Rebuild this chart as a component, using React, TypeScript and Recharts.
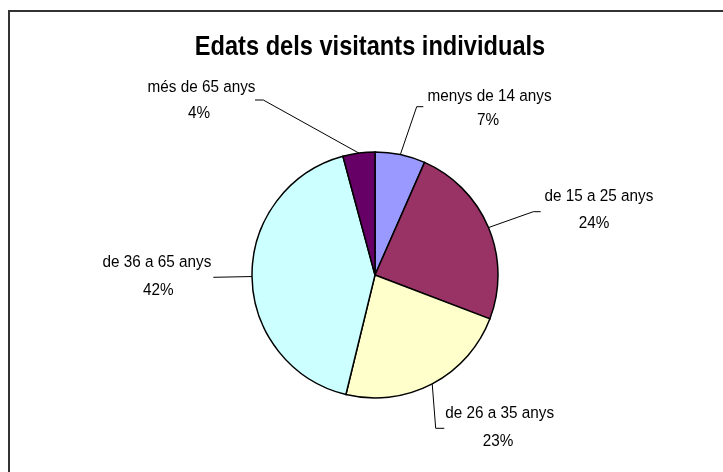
import React from "react";
import { PieChart, Pie, Cell } from "recharts";

const categories = [
  "menys de 14 anys",
  "de 15 a 25 anys",
  "de 26 a 35 anys",
  "de 36 a 65 anys",
  "més de 65 anys",
];
const values = [6.6, 24.2, 23.0, 42.0, 4.2];
const colors = ["#9999FF", "#993366", "#FFFFCC", "#CCFFFF", "#660066"];
const title = "Edats dels visitants individuals";

const data = categories.map((name, i) => ({ name, value: values[i] }));

// label layout (offsets relative to pie centre)
const LABEL_LAYOUT = [
  { pts: [[41.7, -168.3], [48.3, -168.3]], l1: [114.5, -174.3], l2: [113, -150] },
  { pts: [[158.3, -63.3], [165.7, -63.3]], l1: [224, -74.3], l2: [219, -47] },
  { pts: [[60.7, 153.3], [69.3, 153.3]], l1: [124.7, 143.3], l2: [123, 171] },
  { pts: [[-161.7, 2.3]], l1: [-218, -8.3], l2: [-216.7, 20] },
  { pts: [[-111.7, -175], [-120, -175]], l1: [-173.5, -183], l2: [-176, -157] },
];

const FONT = "'Liberation Sans', Arial, sans-serif";
const RAD = Math.PI / 180;
const LABEL_SX = 0.9;

const SText = ({ x, y, sx, children, ...rest }: any) => (
  <text
    transform={`translate(${x},${y}) scale(${sx},1)`}
    x={0}
    y={0}
    textAnchor="middle"
    fontFamily={FONT}
    fill="#000"
    {...rest}
  >
    {children}
  </text>
);

const renderLabel = (props: any) => {
  const { cx, cy, midAngle, outerRadius, index, percent, name } = props;
  const lay = LABEL_LAYOUT[index];
  const sx = cx + outerRadius * Math.cos(-midAngle * RAD);
  const sy = cy + outerRadius * Math.sin(-midAngle * RAD);
  const pts = [[sx, sy], ...lay.pts.map(([dx, dy]) => [cx + dx, cy + dy])];
  return (
    <g key={`lbl-${index}`}>
      <polyline
        points={pts.map((p) => p.join(",")).join(" ")}
        fill="none"
        stroke="#000"
        strokeWidth={1}
      />
      <SText x={cx + lay.l1[0]} y={cy + lay.l1[1]} sx={LABEL_SX} fontSize={17}>
        {name}
      </SText>
      <SText x={cx + lay.l2[0]} y={cy + lay.l2[1]} sx={LABEL_SX} fontSize={17}>
        {`${Math.round(percent * 100)}%`}
      </SText>
    </g>
  );
};

export default function App() {
  return (
    <div style={{ position: "relative", width: 715, height: 464, background: "#fff" }}>
      <div
        style={{
          position: "fixed",
          left: 8,
          top: 10,
          right: 0,
          bottom: 0,
          borderTop: "2px solid #333",
          borderLeft: "2px solid #333",
          pointerEvents: "none",
        }}
      />
      <svg width={715} height={464} style={{ position: "absolute", left: 0, top: 0 }}>
        <SText x={362} y={47} sx={0.875} fontWeight="bold" fontSize={27}>
          {title}
        </SText>
      </svg>
      <div style={{ position: "absolute", left: 0, top: 0 }}>
        <PieChart width={715} height={464} margin={{ top: 0, right: 0, bottom: 0, left: 0 }}>
          <Pie
            data={data}
            dataKey="value"
            nameKey="name"
            cx={367}
            cy={267}
            outerRadius={123}
            startAngle={90}
            endAngle={-270}
            stroke="#000"
            strokeWidth={1.5}
            label={renderLabel}
            labelLine={false}
            isAnimationActive={false}
          >
            {data.map((d, i) => (
              <Cell key={d.name} fill={colors[i]} />
            ))}
          </Pie>
        </PieChart>
      </div>
    </div>
  );
}
